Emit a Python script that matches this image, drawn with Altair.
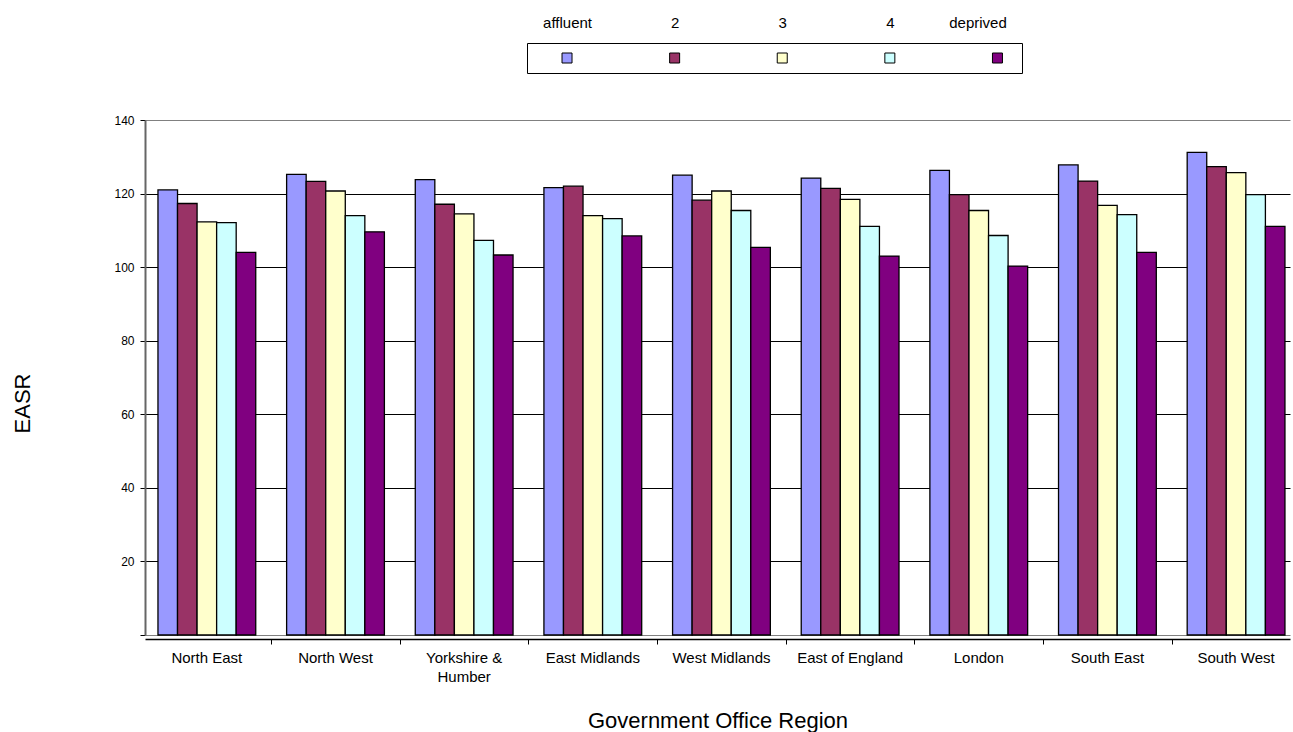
import altair as alt
import pandas as pd

# ---- data ----
regions = ["North East", "North West", "Yorkshire & Humber", "East Midlands",
           "West Midlands", "East of England", "London", "South East", "South West"]
series = ["affluent", "2", "3", "4", "deprived"]
colors = ["#9999FF", "#993366", "#FFFFCC", "#CCFFFF", "#800080"]

affluent = [121.0, 125.2, 123.8, 121.6, 125.0, 124.2, 126.3, 127.8, 131.2]
q2       = [117.3, 123.3, 117.1, 122.0, 118.2, 121.4, 119.7, 123.4, 127.3]
q3       = [112.3, 120.7, 114.5, 114.0, 120.7, 118.4, 115.4, 116.8, 125.7]
q4       = [112.1, 114.0, 107.3, 113.2, 115.4, 111.1, 108.6, 114.3, 119.7]
deprived = [104.0, 109.6, 103.3, 108.5, 105.4, 103.0, 100.3, 104.0, 111.1]

y_ticks = [0, 20, 40, 60, 80, 100, 120, 140]

values = [affluent, q2, q3, q4, deprived]
rows = []
for s, vals in zip(series, values):
    for r, v in zip(regions, vals):
        rows.append({"region": r, "series": s, "value": v})
df = pd.DataFrame(rows)

FONT = "Liberation Sans"
color_scale = alt.Scale(domain=series, range=colors)
x_scale = alt.Scale(paddingInner=0.24, paddingOuter=0.07, align=0.72)

# ---- main bar chart ----
bars = alt.Chart(df).mark_bar(stroke="black", strokeWidth=1.3).encode(
    x=alt.X(
        "region:N", sort=regions, scale=x_scale,
        axis=alt.Axis(
            title="Government Office Region", labelAngle=0, ticks=False,
            offset=4, domainColor="black", domainWidth=1.5,
            labelPadding=11, labelFontSize=15, labelColor="black",
            labelLineHeight=19,
            labelExpr="datum.label == 'Yorkshire & Humber' ? ['Yorkshire &', 'Humber'] : datum.label",
            titleFontSize=22, titleFontWeight="normal", titleColor="black",
            titlePadding=26, grid=False, orient="bottom",
        ),
    ),
    xOffset=alt.XOffset("series:N", sort=series,
                        scale=alt.Scale(paddingInner=0, paddingOuter=0)),
    y=alt.Y(
        "value:Q",
        scale=alt.Scale(domain=[0, 140], nice=False),
        axis=alt.Axis(
            title="EASR", values=y_ticks,
            labelExpr="datum.value == 0 ? '' : datum.label",
            grid=True,
            gridColor={"condition": {"test": "datum.value == 0 || datum.value == 140",
                                     "value": "#808080"}, "value": "black"},
            gridWidth=1, domainColor="#666666", domainWidth=2,
            tickColor="black", tickSize=5, labelPadding=6, labelFontSize=12,
            labelColor="black", titleFontSize=22, titleFontWeight="normal",
            titleColor="black", titlePadding=79, titleY=283,
        ),
    ),
    color=alt.Color("series:N", scale=color_scale, legend=None),
)

# category-boundary ticks (between the groups), drawn by a second axis on the same scale
boundary_ticks = alt.Chart(df).mark_bar(opacity=0).encode(
    x=alt.X(
        "region:N", sort=regions, scale=x_scale,
        axis=alt.Axis(
            orient="bottom", title=None, labels=False, domain=False, grid=False,
            values=regions[:-1], ticks=True, tickColor="black", tickSize=5,
            tickOffset=64.3, offset=4,
        ),
    ),
)

main = alt.layer(bars, boundary_ticks).resolve_axis(x="independent").properties(
    width=1145, height=515
)

# ---- custom legend: labels above, swatches inside a box ----
legend_df = pd.DataFrame({"series": series})
legend = alt.Chart(legend_df).mark_square(
    size=100, stroke="black", strokeWidth=1, opacity=1
).encode(
    x=alt.X(
        "series:N", sort=series,
        scale=alt.Scale(type="point", padding=0.3, align=0.62),
        axis=alt.Axis(orient="top", title=None, domain=False, ticks=False,
                      labelAngle=0, labelFontSize=15, labelPadding=13,
                      labelColor="black", grid=False,
                      labelOffset={"condition": {"test": "datum.value == 'deprived'",
                                                 "value": -20}, "value": 0}),
    ),
    color=alt.Color("series:N", scale=color_scale, legend=None),
).properties(width=495, height=30,
             view=alt.ViewBackground(stroke="black", strokeWidth=1))

spacer = alt.Chart(pd.DataFrame({"s": [""]})).mark_text().encode(
    text="s:N"
).properties(width=361, height=30)

legend_row = alt.hconcat(spacer, legend, spacing=20)

chart = alt.vconcat(legend_row, main, spacing=39).properties(
    padding={"left": 11, "top": 14, "right": 0, "bottom": 0}
).configure(font=FONT).configure_view(stroke="transparent")

chart.save("out.html", embed_options={"renderer": "svg", "actions": False})
